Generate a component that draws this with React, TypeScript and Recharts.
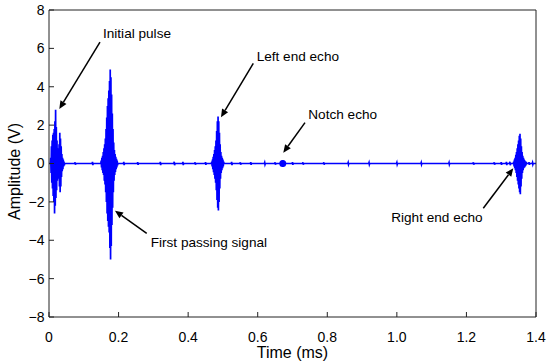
import React from 'react';
import { LineChart, Line, XAxis, YAxis, ReferenceLine, ReferenceDot, Label } from 'recharts';

// ---------- axis ticks ----------
const xTicks = [0, 0.2, 0.4, 0.6, 0.8, 1.0, 1.2, 1.4];
const yTicks = [-8, -6, -4, -2, 0, 2, 4, 6, 8];

// ---------- signal (time in ms, amplitude in V) ----------
const SAMPLE_STEP = 0.001;

const initialPulseStart = 0.005;
const initialPulse = [
  0.3, -0.5, 0.9, -1.0, 1.2, -1.3, 1.5, -1.7, 1.6, -2.0,
  1.8, -2.6, 2.2, -2.2, 2.8, -1.8, 1.9, -1.4, 1.2, -0.9,
  0.8, -0.7, 0.6, -0.8, 1.0, -1.2, 1.6, -1.5, 1.3, -1.2,
  0.9, -0.7, 0.5, -0.4, 0.3, -0.3, 0.2, -0.15, 0.1, -0.1,
];

const firstPassStart = 0.15;
const firstPass = [
  0.15, -0.2, 0.3, -0.35, 0.4, -0.5, 0.6, -0.6, 0.8, -0.9,
  1.0, -1.1, 1.3, -1.5, 1.8, -2.0, 2.4, -2.6, 3.0, -3.0,
  3.4, -3.3, 3.8, -3.6, 4.3, -4.4, 4.9, -5.0, 4.5, -4.3,
  3.6, -3.2, 2.6, -2.3, 1.8, -1.5, 1.1, -0.9, 0.7, -0.6,
  0.5, -0.45, 0.35, -0.3, 0.25, -0.2, 0.15, -0.1,
];

const leftEchoStart = 0.468;
const leftEcho = [
  0.1, -0.15, 0.2, -0.3, 0.35, -0.45, 0.5, -0.6, 0.7, -0.8,
  0.9, -1.0, 1.2, -1.4, 1.7, -1.9, 2.2, -2.3, 2.45, -2.45,
  2.2, -2.0, 1.6, -1.3, 1.0, -0.8, 0.6, -0.5, 0.4, -0.35,
  0.3, -0.25, 0.2, -0.15, 0.1,
];

const rightEchoStart = 1.336;
const rightEcho = [
  0.1, -0.15, 0.2, -0.25, 0.3, -0.35, 0.45, -0.5, 0.6, -0.7,
  0.8, -0.9, 1.0, -1.1, 1.2, -1.3, 1.45, -1.5, 1.55, -1.6,
  1.3, -1.2, 0.9, -0.8, 0.6, -0.5, 0.4, -0.35, 0.3, -0.25,
  0.2, -0.2, 0.15, -0.15, 0.1, -0.1, 0.08,
];

// baseline between the bursts, with the small blips seen along it
const noiseTimes = [
  0.0, 0.004, 0.045, 0.074, 0.075, 0.076, 0.077, 0.124, 0.125, 0.126,
  0.127, 0.149, 0.198, 0.214, 0.215, 0.216, 0.217, 0.254, 0.255, 0.256,
  0.257, 0.319, 0.32, 0.321, 0.322, 0.359, 0.36, 0.361, 0.362, 0.384,
  0.385, 0.386, 0.387, 0.419, 0.42, 0.421, 0.422, 0.449, 0.45, 0.451,
  0.452, 0.467, 0.503, 0.524, 0.525, 0.526, 0.527, 0.549, 0.55, 0.551,
  0.552, 0.579, 0.58, 0.581, 0.582, 0.619, 0.62, 0.621, 0.622, 0.649,
  0.65, 0.651, 0.652, 0.67, 0.671, 0.672, 0.673, 0.674, 0.675, 0.699,
  0.7, 0.701, 0.702, 0.729, 0.73, 0.731, 0.732, 0.789, 0.79, 0.791,
  0.792, 0.859, 0.86, 0.861, 0.862, 0.919, 0.92, 0.921, 0.922, 0.999,
  1.0, 1.001, 1.002, 1.069, 1.07, 1.071, 1.072, 1.149, 1.15, 1.151,
  1.152, 1.219, 1.22, 1.221, 1.222, 1.279, 1.28, 1.281, 1.282, 1.299,
  1.3, 1.301, 1.302, 1.314, 1.315, 1.316, 1.317, 1.324, 1.325, 1.326,
  1.327, 1.335, 1.373, 1.379, 1.38, 1.381, 1.382, 1.389, 1.39, 1.391,
  1.392, 1.4,
];
const noiseValues = [
  0, 0, 0, 0, 0.06, -0.06, 0, 0, 0.08, -0.08,
  0, 0, 0, 0, 0.08, -0.08, 0, 0, 0.07, -0.07,
  0, 0, 0.08, -0.08, 0, 0, 0.09, -0.09, 0, 0,
  0.08, -0.08, 0, 0, 0.06, -0.06, 0, 0, 0.07, -0.07,
  0, 0, 0, 0, 0.08, -0.08, 0, 0, 0.06, -0.06,
  0, 0, 0.07, -0.07, 0, 0, 0.05, -0.05, 0, 0,
  0.06, -0.06, 0, 0, 0.15, -0.18, 0.15, -0.1, 0, 0,
  0.07, -0.07, 0, 0, 0.06, -0.06, 0, 0, 0.06, -0.06,
  0, 0, 0.05, -0.05, 0, 0, 0.05, -0.05, 0, 0,
  0.05, -0.05, 0, 0, 0.05, -0.05, 0, 0, 0.05, -0.05,
  0, 0, 0.06, -0.06, 0, 0, 0.06, -0.06, 0, 0,
  0.07, -0.07, 0, 0, 0.08, -0.08, 0, 0, 0.09, -0.09,
  0, 0, 0, 0, 0.07, -0.07, 0, 0, 0.05, -0.05,
  0, 0,
];

const notchTime = 0.672;
const notchAmplitude = 0;

// ---------- annotations (data coordinates) ----------
const annotationTexts = ['Initial pulse', 'First passing signal', 'Left end echo', 'Notch echo', 'Right end echo'];
const annotationTextPos = [
  [0.1552, 6.54],
  [0.2924, -4.35],
  [0.597, 5.32],
  [0.7454, 2.32],
  [1.2467, -3.07],
];
const annotationAnchor = ['start', 'start', 'start', 'start', 'end'];
const arrowTail = [
  [0.1466, 6.33],
  [0.2809, -3.64],
  [0.5873, 5.22],
  [0.7359, 2.13],
  [1.2485, -2.33],
];
const arrowHead = [
  [0.0296, 2.84],
  [0.1897, -2.46],
  [0.4944, 2.41],
  [0.6735, 0.56],
  [1.3347, -0.25],
];

// ---------- build the series ----------
type Pt = { t: number; v: number };
const burst = (start: number, values: number[]): Pt[] =>
  values.map((v, i) => ({ t: Math.round((start + i * SAMPLE_STEP) * 10000) / 10000, v }));

const signal: Pt[] = [
  ...burst(initialPulseStart, initialPulse),
  ...burst(firstPassStart, firstPass),
  ...burst(leftEchoStart, leftEcho),
  ...burst(rightEchoStart, rightEcho),
  ...noiseTimes.map((t, i) => ({ t, v: noiseValues[i] })),
].sort((a, b) => a.t - b.t);

const FONT = '"Liberation Sans", Arial, Helvetica, sans-serif';
const AXIS_COLOR = '#222';
const BLUE = '#0000ff';

const fmtX = (v: number) => (v === 0 ? '0' : v.toFixed(1));
const fmtY = (v: number) => (v < 0 ? '\u2212' + Math.abs(v) : String(v));

const tickStyle = { fill: '#000', fontSize: 14, fontFamily: FONT };

const ArrowShape = (props: any) => {
  const { x1, y1, x2, y2 } = props;
  const dx = x2 - x1;
  const dy = y2 - y1;
  const len = Math.sqrt(dx * dx + dy * dy) || 1;
  const ux = dx / len;
  const uy = dy / len;
  const headLen = 8;
  const headHalf = 3.5;
  const bx = x2 - ux * headLen;
  const by = y2 - uy * headLen;
  const px = -uy;
  const py = ux;
  return (
    <g>
      <line x1={x1} y1={y1} x2={bx} y2={by} stroke="#000" strokeWidth={1.5} />
      <polygon
        points={`${x2},${y2} ${bx + px * headHalf},${by + py * headHalf} ${bx - px * headHalf},${by - py * headHalf}`}
        fill="#000"
      />
    </g>
  );
};

const makeTextShape = (text: string, anchor: string) => (props: any) => (
  <text
    x={props.cx}
    y={props.cy}
    textAnchor={anchor}
    fontSize={13.6}
    fontFamily={FONT}
    fill="#000"
  >
    {text}
  </text>
);

export default function App() {
  return (
    <div style={{ position: 'absolute', left: 0, top: 0, width: 550, height: 363, background: '#fff' }}>
      <LineChart
        width={550}
        height={363}
        data={signal}
        margin={{ top: 9, right: 13, bottom: 0, left: 0 }}
      >
        <XAxis
          dataKey="t"
          type="number"
          domain={[0, 1.4]}
          ticks={xTicks}
          interval={0}
          allowDataOverflow
          height={46}
          tickSize={-5}
          tickMargin={20}
          tickFormatter={fmtX}
          tick={tickStyle}
          stroke={AXIS_COLOR}
        >
          <Label
            content={(p: any) => {
              const vb = p.viewBox;
              return (
                <text
                  x={vb.x + vb.width / 2}
                  y={vb.y + vb.height - 5}
                  textAnchor="middle"
                  fontSize={16}
                  fontFamily={FONT}
                  fill="#000"
                >
                  Time (ms)
                </text>
              );
            }}
          />
        </XAxis>
        <XAxis
          xAxisId="top"
          orientation="top"
          type="number"
          domain={[0, 1.4]}
          ticks={xTicks}
          interval={0}
          allowDataOverflow
          height={1}
          tickSize={-5}
          tick={false}
          stroke={AXIS_COLOR}
        />
        <YAxis
          type="number"
          domain={[-8, 8]}
          ticks={yTicks}
          interval={0}
          allowDataOverflow
          width={49}
          tickSize={-5}
          tickMargin={9.5}
          tickFormatter={fmtY}
          tick={tickStyle}
          stroke={AXIS_COLOR}
        >
          <Label
            content={(p: any) => {
              const vb = p.viewBox;
              const cx = 20;
              const cy = vb.y + vb.height / 2 + 8;
              return (
                <text
                  x={cx}
                  y={cy}
                  transform={`rotate(-90, ${cx}, ${cy})`}
                  textAnchor="middle"
                  fontSize={16}
                  fontFamily={FONT}
                  fill="#000"
                >
                  Amplitude (V)
                </text>
              );
            }}
          />
        </YAxis>
        <YAxis
          yAxisId="right"
          orientation="right"
          type="number"
          domain={[-8, 8]}
          ticks={yTicks}
          interval={0}
          allowDataOverflow
          width={1}
          tickSize={-5}
          tick={false}
          stroke={AXIS_COLOR}
        />
        <Line
          dataKey="v"
          type="linear"
          stroke={BLUE}
          strokeWidth={1.7}
          dot={false}
          activeDot={false}
          isAnimationActive={false}
        />
        <ReferenceDot
          x={notchTime}
          y={notchAmplitude}
          r={3.5}
          fill={BLUE}
          stroke="none"
        />
        {annotationTexts.map((txt, i) => (
          <ReferenceLine
            key={'arrow' + i}
            segment={[
              { x: arrowTail[i][0], y: arrowTail[i][1] },
              { x: arrowHead[i][0], y: arrowHead[i][1] },
            ]}
            shape={ArrowShape}
            ifOverflow="visible"
          />
        ))}
        {annotationTexts.map((txt, i) => (
          <ReferenceDot
            key={'label' + i}
            x={annotationTextPos[i][0]}
            y={annotationTextPos[i][1]}
            r={0}
            shape={makeTextShape(txt, annotationAnchor[i])}
            ifOverflow="visible"
          />
        ))}
      </LineChart>
    </div>
  );
}
